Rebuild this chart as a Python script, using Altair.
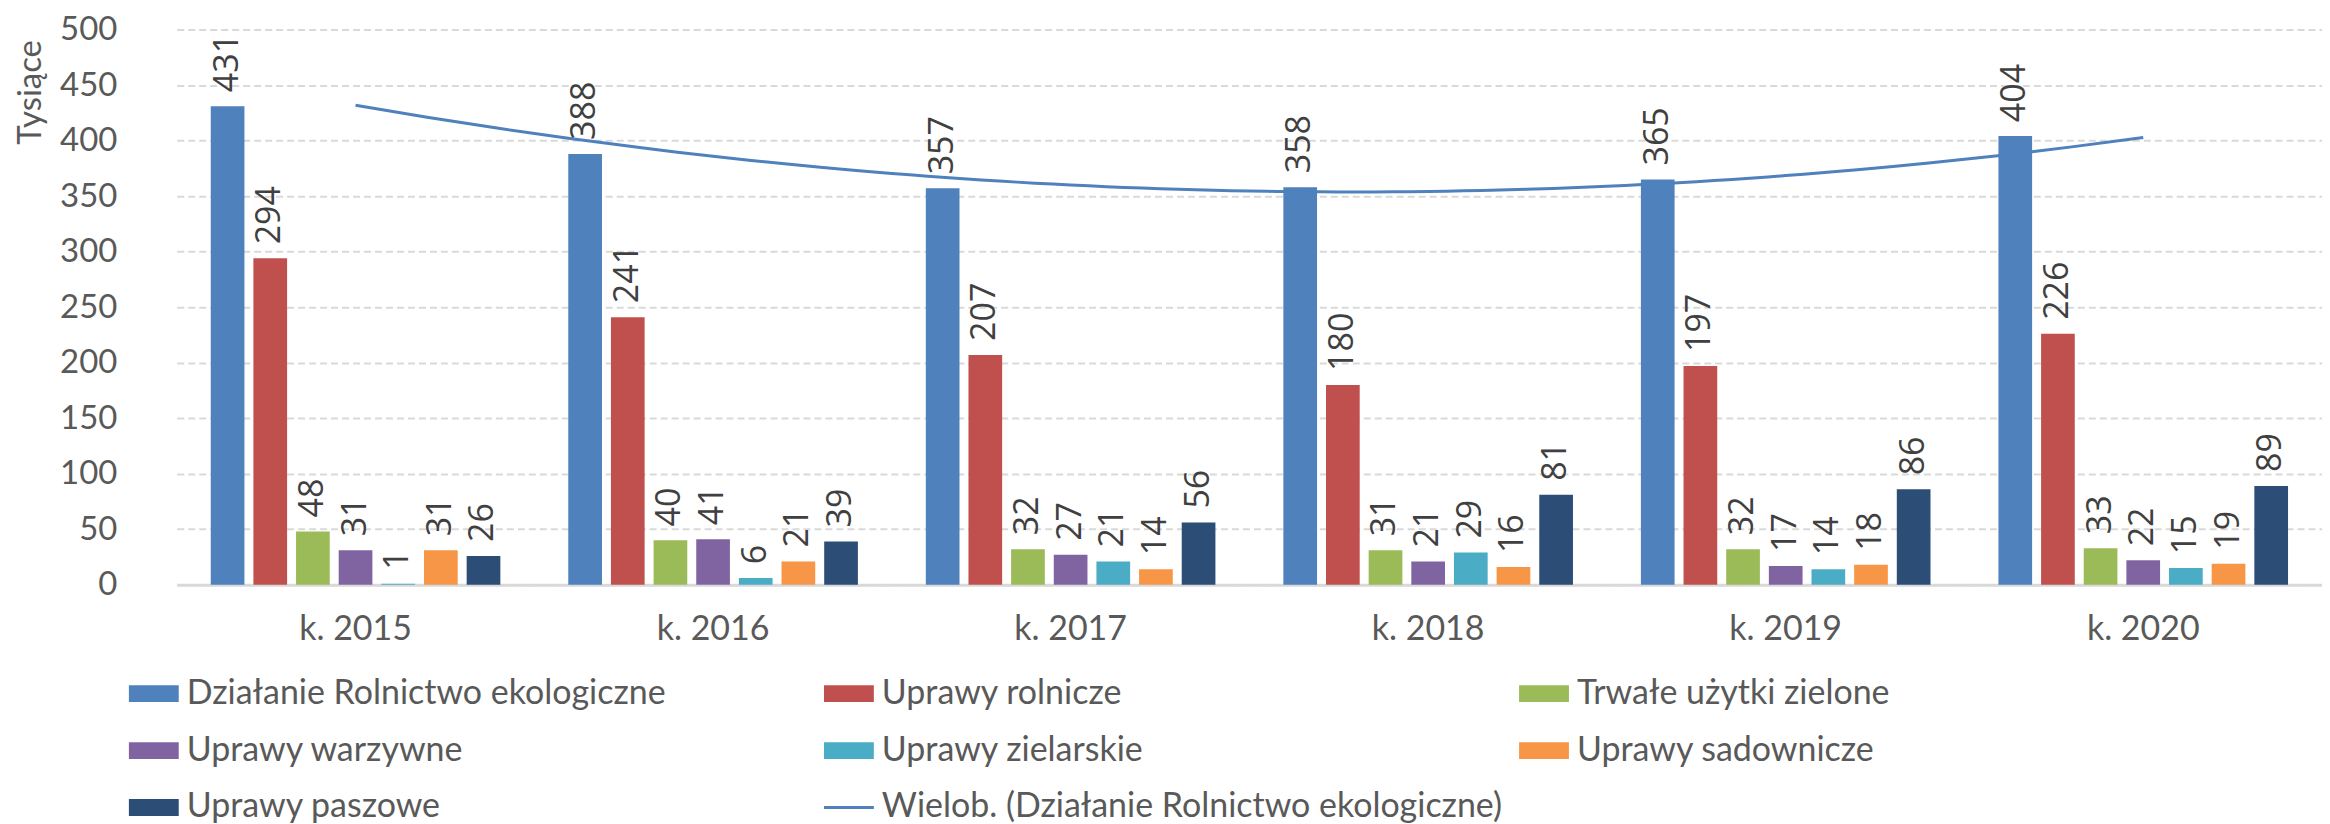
import json
import altair as alt
import pandas as pd

categories = ["k. 2015", "k. 2016", "k. 2017", "k. 2018", "k. 2019", "k. 2020"]
series = ["Działanie Rolnictwo ekologiczne", "Uprawy rolnicze", "Trwałe użytki zielone",
          "Uprawy warzywne", "Uprawy zielarskie", "Uprawy sadownicze", "Uprawy paszowe"]
trend_name = "Wielob. (Działanie Rolnictwo ekologiczne)"

dzialanie = [431, 388, 357, 358, 365, 404]
rolnicze = [294, 241, 207, 180, 197, 226]
trwale = [48, 40, 32, 31, 32, 33]
warzywne = [31, 41, 27, 21, 17, 22]
zielarskie = [1, 6, 21, 29, 14, 15]
sadownicze = [31, 21, 14, 16, 18, 19]
paszowe = [26, 39, 56, 81, 86, 89]

colors = ["#4F81BD", "#C0504D", "#9BBB59", "#8064A2", "#4BACC6", "#F79646", "#2C4D75", "#4F81BD"]
y_ticks = [0, 50, 100, 150, 200, 250, 300, 350, 400, 450, 500]

values = [dzialanie, rolnicze, trwale, warzywne, zielarskie, sadownicze, paszowe]
rows = []
for s, vals in zip(series, values):
    for i, (c, v) in enumerate(zip(categories, vals)):
        rows.append({"cat": c, "idx": i, "series": s, "value": v})
df = pd.DataFrame(rows)

all_names = series + [trend_name]
rect_path = "M-2.08,-0.7H2.08V0.7H-2.08Z"
line_path = "M-2.08,-0.13H2.08V0.13H-2.08Z"

leg = alt.Legend(
    orient="none", legendX=-40, legendY=648, columns=3, direction="horizontal",
    title=None, gridAlign="all", labelFont="Lato", labelFontSize=34, labelColor="#595959",
    labelLimit=1200, symbolSize=576, symbolOpacity=1, symbolStrokeWidth=0, labelOffset=16,
    columnPadding=16, rowPadding=23,
)

color = alt.Color("series:N", scale=alt.Scale(domain=all_names, range=colors), legend=leg)
shape = alt.Shape("series:N", scale=alt.Scale(domain=all_names, range=[rect_path] * 7 + [line_path]), legend=leg)

band_scale = alt.Scale(paddingInner=0.19, paddingOuter=0.095)
x_band = alt.X("cat:N", sort=categories, scale=band_scale,
               axis=alt.Axis(title=None, labelAngle=0, ticks=False, domainColor="#D9D9D9",
                             domainWidth=3, labelFont="Lato", labelFontSize=34,
                             labelColor="#595959", labelPadding=28, grid=False))
x_band_noaxis = alt.X("cat:N", sort=categories, scale=band_scale, axis=None)
x_off = alt.XOffset("series:N", sort=series, scale=alt.Scale(paddingInner=0.21, paddingOuter=0))
y_val = alt.Y("value:Q", scale=alt.Scale(domain=[0, 500], nice=False),
              axis=alt.Axis(values=y_ticks, grid=True, gridColor="#D9D9D9", gridDash=[7, 4],
                            gridWidth=2, domain=False, ticks=False, labelFont="Lato",
                            labelFontSize=33, labelColor="#595959", labelPadding=60,
                            title="Tysiące", titleFont="Lato", titleFontSize=33,
                            titleFontWeight="normal", titleColor="#595959",
                            titleAngle=270, titleAlign="right", titleBaseline="middle",
                            titleX=-146, titleY=10))

base = alt.Chart(df)

bars = base.mark_bar().encode(x=x_band, xOffset=x_off, y=y_val, color=color)

labels = base.mark_text(angle=270, align="left", baseline="middle", dx=14,
                        font="Open Sans", fontSize=34, color="#404040").encode(
    x=x_band_noaxis, xOffset=x_off, y=y_val, text="value:Q")

legend_pts = base.mark_point(filled=True, opacity=0).encode(
    x=x_band_noaxis, y=y_val, color=color, shape=shape)

trend = base.transform_filter(
    alt.datum.series == series[0]
).transform_regression(
    "idx", "value", method="poly", order=2, extent=[0, 5]
).transform_calculate(
    series=json.dumps(trend_name)
).mark_line(strokeWidth=3).encode(
    x=alt.X("idx:Q", scale=alt.Scale(domain=[-0.5, 5.5], nice=False, zero=False), axis=None),
    y=alt.Y("value:Q"),
    color=color,
)

chart = alt.layer(bars, labels, trend, legend_pts).resolve_scale(x="independent").properties(
    width=2148, height=556,
    padding={"left": 7, "top": 5, "right": 0, "bottom": 0},
).configure_view(stroke=None)

chart.save("out.html", embed_options={"renderer": "svg", "actions": False})
